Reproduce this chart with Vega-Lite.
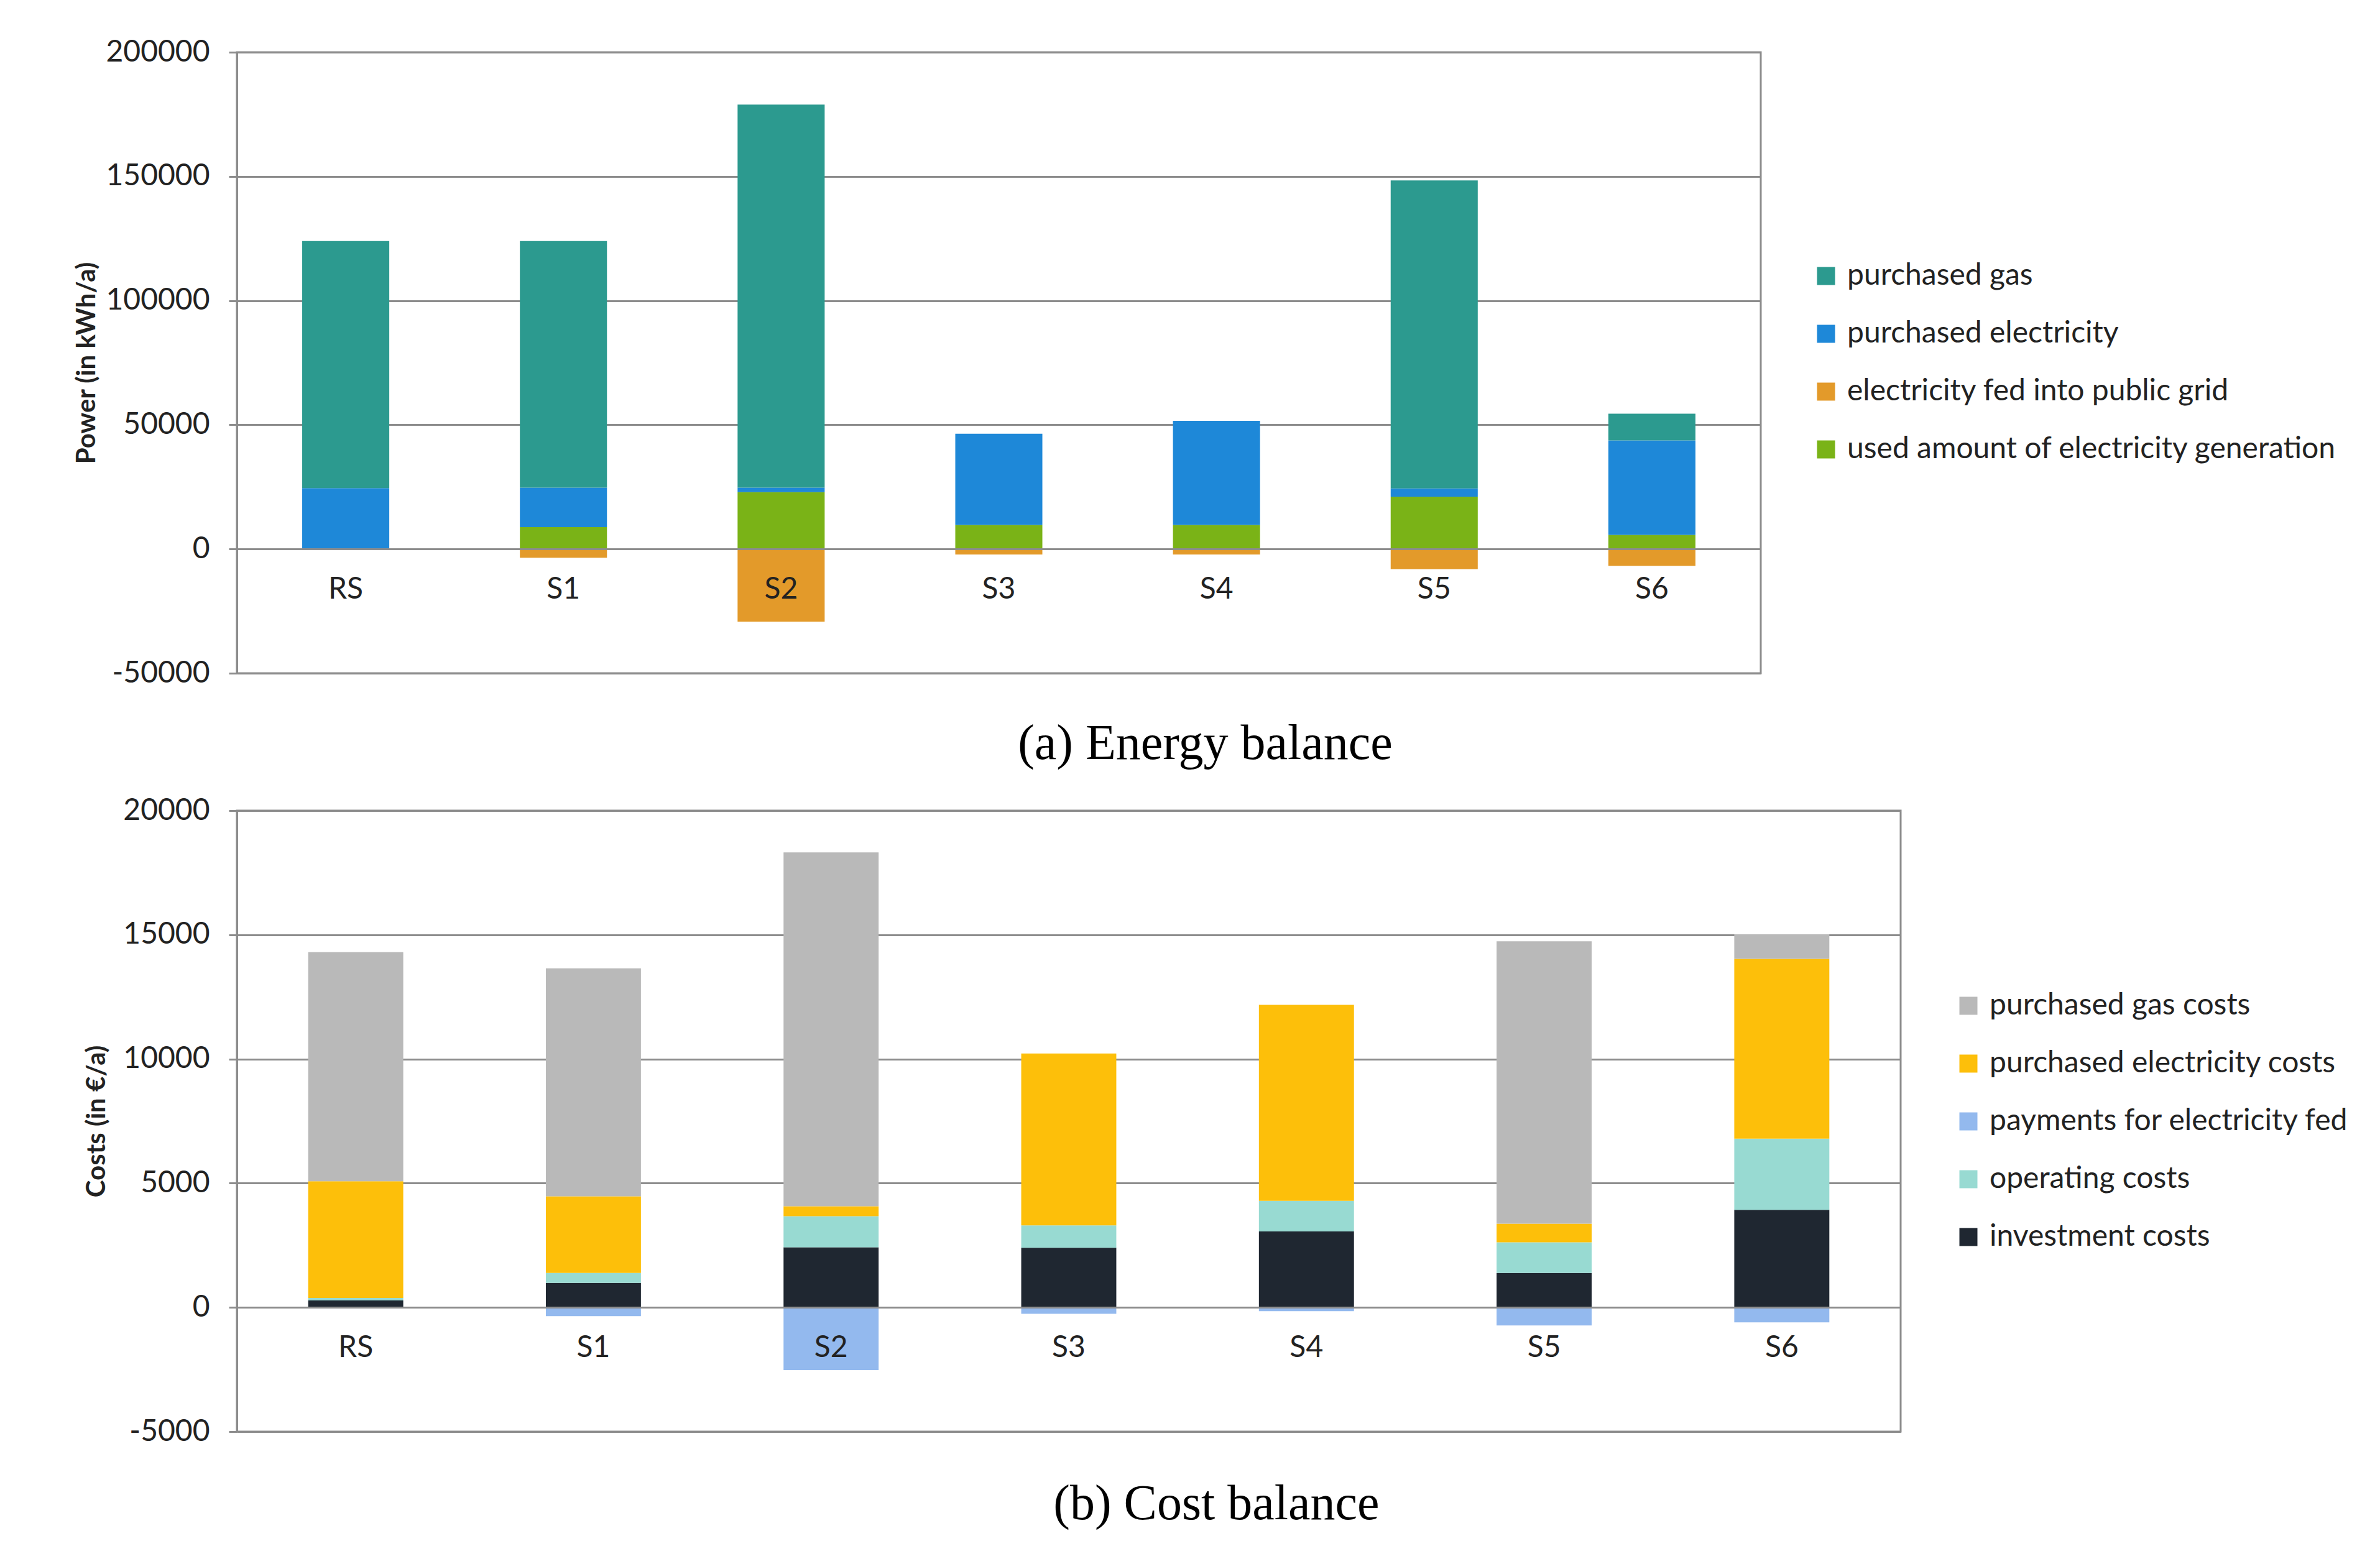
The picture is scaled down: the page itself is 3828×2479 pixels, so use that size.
{
  "$schema": "https://vega.github.io/schema/vega-lite/v6.json",
  "background": "white",
  "padding": {"left": 116, "top": 58, "right": 0, "bottom": 0},
  "spacing": 39,
  "datasets": {
    "energy": [
      {"scenario": "RS", "category": "used amount of electricity generation", "value": 0},
      {"scenario": "RS", "category": "purchased electricity", "value": 24500},
      {"scenario": "RS", "category": "purchased gas", "value": 99500},
      {"scenario": "RS", "category": "electricity fed into public grid", "value": 0},
      {"scenario": "S1", "category": "used amount of electricity generation", "value": 8800},
      {"scenario": "S1", "category": "purchased electricity", "value": 15900},
      {"scenario": "S1", "category": "purchased gas", "value": 99300},
      {"scenario": "S1", "category": "electricity fed into public grid", "value": -3500},
      {"scenario": "S2", "category": "used amount of electricity generation", "value": 22900},
      {"scenario": "S2", "category": "purchased electricity", "value": 1800},
      {"scenario": "S2", "category": "purchased gas", "value": 154200},
      {"scenario": "S2", "category": "electricity fed into public grid", "value": -29200},
      {"scenario": "S3", "category": "used amount of electricity generation", "value": 9700},
      {"scenario": "S3", "category": "purchased electricity", "value": 36700},
      {"scenario": "S3", "category": "purchased gas", "value": 0},
      {"scenario": "S3", "category": "electricity fed into public grid", "value": -2200},
      {"scenario": "S4", "category": "used amount of electricity generation", "value": 9700},
      {"scenario": "S4", "category": "purchased electricity", "value": 41900},
      {"scenario": "S4", "category": "purchased gas", "value": 0},
      {"scenario": "S4", "category": "electricity fed into public grid", "value": -2200},
      {"scenario": "S5", "category": "used amount of electricity generation", "value": 21100},
      {"scenario": "S5", "category": "purchased electricity", "value": 3300},
      {"scenario": "S5", "category": "purchased gas", "value": 124000},
      {"scenario": "S5", "category": "electricity fed into public grid", "value": -8100},
      {"scenario": "S6", "category": "used amount of electricity generation", "value": 5700},
      {"scenario": "S6", "category": "purchased electricity", "value": 38000},
      {"scenario": "S6", "category": "purchased gas", "value": 10800},
      {"scenario": "S6", "category": "electricity fed into public grid", "value": -6800}
    ],
    "cost": [
      {"scenario": "RS", "item": "investment costs", "cost": 280},
      {"scenario": "RS", "item": "operating costs", "cost": 100},
      {"scenario": "RS", "item": "purchased electricity costs", "cost": 4700},
      {"scenario": "RS", "item": "purchased gas costs", "cost": 9220},
      {"scenario": "RS", "item": "payments for electricity fed", "cost": 0},
      {"scenario": "S1", "item": "investment costs", "cost": 990},
      {"scenario": "S1", "item": "operating costs", "cost": 400},
      {"scenario": "S1", "item": "purchased electricity costs", "cost": 3085},
      {"scenario": "S1", "item": "purchased gas costs", "cost": 9175},
      {"scenario": "S1", "item": "payments for electricity fed", "cost": -350},
      {"scenario": "S2", "item": "investment costs", "cost": 2420},
      {"scenario": "S2", "item": "operating costs", "cost": 1250},
      {"scenario": "S2", "item": "purchased electricity costs", "cost": 400},
      {"scenario": "S2", "item": "purchased gas costs", "cost": 14250},
      {"scenario": "S2", "item": "payments for electricity fed", "cost": -2520},
      {"scenario": "S3", "item": "investment costs", "cost": 2400},
      {"scenario": "S3", "item": "operating costs", "cost": 900},
      {"scenario": "S3", "item": "purchased electricity costs", "cost": 6920},
      {"scenario": "S3", "item": "purchased gas costs", "cost": 0},
      {"scenario": "S3", "item": "payments for electricity fed", "cost": -260},
      {"scenario": "S4", "item": "investment costs", "cost": 3060},
      {"scenario": "S4", "item": "operating costs", "cost": 1230},
      {"scenario": "S4", "item": "purchased electricity costs", "cost": 7890},
      {"scenario": "S4", "item": "purchased gas costs", "cost": 0},
      {"scenario": "S4", "item": "payments for electricity fed", "cost": -150},
      {"scenario": "S5", "item": "investment costs", "cost": 1390},
      {"scenario": "S5", "item": "operating costs", "cost": 1230},
      {"scenario": "S5", "item": "purchased electricity costs", "cost": 750},
      {"scenario": "S5", "item": "purchased gas costs", "cost": 11370},
      {"scenario": "S5", "item": "payments for electricity fed", "cost": -730},
      {"scenario": "S6", "item": "investment costs", "cost": 3930},
      {"scenario": "S6", "item": "operating costs", "cost": 2860},
      {"scenario": "S6", "item": "purchased electricity costs", "cost": 7240},
      {"scenario": "S6", "item": "purchased gas costs", "cost": 990},
      {"scenario": "S6", "item": "payments for electricity fed", "cost": -600}
    ]
  },
  "vconcat": [
    {
      "data": {"name": "energy"},
      "width": 2451,
      "height": 999,
      "title": {"text": "(a) Energy balance", "orient": "bottom", "frame": "bounds", "anchor": "middle", "offset": 51},
      "transform": [
        {"calculate": "indexof(['used amount of electricity generation', 'purchased electricity', 'purchased gas', 'electricity fed into public grid'], datum.category)", "as": "stackOrder"}
      ],
      "mark": {"type": "bar"},
      "encoding": {
        "x": {
          "field": "scenario", "type": "nominal", "sort": null,
          "scale": {"paddingInner": 0.6, "paddingOuter": 0.3},
          "axis": {"title": null, "labelAngle": 0, "ticks": false, "offset": -200, "labelPadding": 41, "grid": false, "zindex": 1}
        },
        "y": {
          "field": "value", "type": "quantitative", "stack": "zero",
          "scale": {"domain": [-50000, 200000], "nice": false},
          "axis": {"title": "Power (in kWh/a)", "values": [-50000, 0, 50000, 100000, 150000, 200000], "labelExpr": "'' + datum.value"}
        },
        "color": {
          "field": "category", "type": "nominal",
          "scale": {
            "domain": ["purchased gas", "purchased electricity", "electricity fed into public grid", "used amount of electricity generation"],
            "range": ["#2c9a8f", "#1e88d8", "#e39a2a", "#7ab317"]
          },
          "legend": {"title": null, "offset": 81}
        },
        "order": {"field": "stackOrder", "type": "quantitative"}
      }
    },
    {
      "data": {"name": "cost"},
      "width": 2676,
      "height": 999,
      "title": {"text": "(b) Cost balance", "orient": "bottom", "frame": "bounds", "anchor": "middle", "offset": 54},
      "transform": [
        {"calculate": "indexof(['investment costs', 'operating costs', 'purchased electricity costs', 'purchased gas costs', 'payments for electricity fed'], datum.item)", "as": "stackOrder"}
      ],
      "mark": {"type": "bar"},
      "encoding": {
        "x": {
          "field": "scenario", "type": "nominal", "sort": null,
          "scale": {"paddingInner": 0.6, "paddingOuter": 0.3},
          "axis": {"title": null, "labelAngle": 0, "ticks": false, "offset": -200, "labelPadding": 41, "grid": false, "zindex": 1}
        },
        "y": {
          "field": "cost", "type": "quantitative", "stack": "zero",
          "scale": {"domain": [-5000, 20000], "nice": false},
          "axis": {"title": "Costs (in €/a)", "values": [-5000, 0, 5000, 10000, 15000, 20000], "labelExpr": "'' + datum.value"}
        },
        "color": {
          "field": "item", "type": "nominal",
          "scale": {
            "domain": ["purchased gas costs", "purchased electricity costs", "payments for electricity fed", "operating costs", "investment costs"],
            "range": ["#b9b9b9", "#fdbf0a", "#93b9ee", "#98dad2", "#1f2731"]
          },
          "legend": {"title": null, "offset": 85}
        },
        "order": {"field": "stackOrder", "type": "quantitative"}
      }
    }
  ],
  "resolve": {
    "scale": {"x": "independent", "y": "independent", "color": "independent"},
    "legend": {"color": "independent"}
  },
  "config": {
    "font": "Lato",
    "view": {"stroke": "#8c8c8c", "strokeWidth": 3},
    "axis": {
      "labelFontSize": 48,
      "labelColor": "#222222",
      "titleFontSize": 42,
      "titleFontWeight": "bold",
      "titleColor": "#222222",
      "titlePadding": 20,
      "labelPadding": 31,
      "tickSize": 13,
      "tickWidth": 3,
      "tickColor": "#8c8c8c",
      "domainColor": "#8c8c8c",
      "domainWidth": 3,
      "gridColor": "#8c8c8c",
      "gridWidth": 3,
      "gridOpacity": 1
    },
    "legend": {
      "symbolType": "square",
      "symbolSize": 841,
      "symbolStrokeWidth": 0,
      "labelFontSize": 48,
      "labelColor": "#222222",
      "labelOffset": 10,
      "rowPadding": 45,
      "labelLimit": 1000,
      "layout": {"right": {"anchor": "middle"}}
    },
    "title": {"font": "Liberation Serif", "fontSize": 80, "fontWeight": "normal", "color": "#000000"}
  }
}
